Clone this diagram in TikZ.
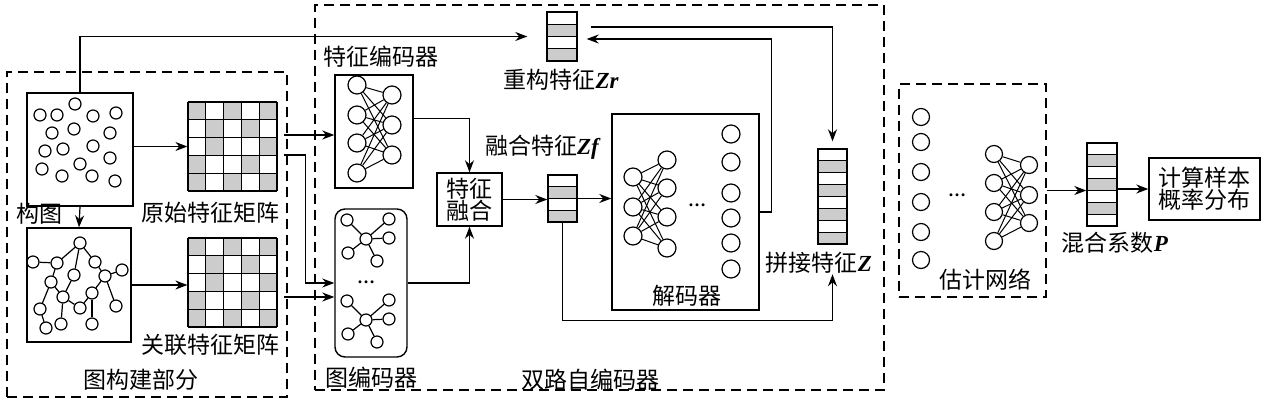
\documentclass[tikz,border=0pt]{standalone}
\usepackage{fontspec}
\setmainfont{Noto Sans CJK SC}
\newfontfamily\tnr{Liberation Serif}
\newcommand\bivar[1]{{\tnr\bfseries\itshape #1}}
\usetikzlibrary{arrows.meta,fit,positioning}
\definecolor{cellgray}{RGB}{204,204,204}
\tikzset{
  box/.style={draw, line width=0.7pt, inner sep=0pt},
  dashbox/.style={draw, line width=0.6pt, dash pattern=on 5pt off 3pt, inner sep=0pt},
  neuron/.style={draw, circle, line width=0.6pt, minimum size=9pt, inner sep=0pt},
  dot/.style={draw, circle, line width=0.6pt, minimum size=6pt, inner sep=0pt},
  lbl/.style={font=\fontsize{11.5pt}{13pt}\selectfont, inner sep=0pt, align=center},
  ellip/.style={font=\tnr\bfseries\small, inner sep=0pt},
  arr/.style={-{Stealth[length=6pt,width=4.5pt]}, line width=0.6pt},
}

\begin{document}
\begin{tikzpicture}[x=0.5pt, y=-0.5pt, line width=0.6pt]
  \useasboundingbox (0,0) rectangle (1265,403);

  % dashed groups
  \node[dashbox, fit={(7,72) (287,397)}] (build) {};
  \node[dashbox, fit={(315,5) (884,390)}] (dual) {};
  \node[dashbox, fit={(899,84) (1046,297)}] (est) {};
  \node[lbl] (buildlbl) at (141,380) {图构建部分};
  \node[lbl] (duallbl) at (590,380) {双路自编码器};
  \node[lbl] (estlbl) at (985,280) {估计网络};

  % raw samples
  \node[box, fit={(27,93) (133,206)}] (scatter) {};
  \foreach \x/\y in {75/104, 40/115, 57/115, 93/116, 116/113, 52/133, 74/129,
                     110/133, 45/151, 63/149, 93/146, 110/158, 80/164, 42/169,
                     62/176, 92/176, 115/181}
    \node[dot] at (\x,\y) {};
  \node[lbl] (scatterlbl) at (40,214) {构图};

  % sample graph
  \node[box, fit={(27,228) (131,342)}] (graph) {};
  \foreach \x/\y [count=\i] in {80/243, 33/262, 57/263, 95/262, 74/275, 105/276,
                                122/270, 51/282, 63/297, 92/293, 40/309, 80/308,
                                116/306, 46/328, 61/324, 92/324}
    \node[dot] (g\i) at (\x,\y) {};
  \foreach \u/\v in {2/3, 1/3, 1/5, 1/4, 3/8, 8/9, 5/9, 9/15, 9/12, 12/10,
                     10/6, 6/4, 6/7, 6/13, 10/16, 8/11, 11/14}
    \draw (g\u) -- (g\v);

  % feature matrices
  \foreach \m/\ya in {mat1/102, mat2/238}{
    \foreach \c/\r in {0/0, 2/0, 4/0, 1/1, 3/1, 1/2, 4/2, 0/3, 3/3, 0/4, 2/4, 4/4}
      \fill[cellgray] ({188+\c*17.8},{\ya+\r*17.8}) rectangle ++(17.8,17.8);
    \foreach \i in {0,...,5}{
      \draw ({188+\i*17.8},\ya) -- ++(0,89);
      \draw (188,{\ya+\i*17.8}) -- ++(89,0);
    }
    \node[inner sep=0pt, fit={(188,\ya) (277,{\ya+89})}] (\m) {};
  }
  \node[lbl] (mat1lbl) at (210,213) {原始特征矩阵};
  \node[lbl] (mat2lbl) at (210,345) {关联特征矩阵};

  \draw[arr] (scatter.east |- mat1) -- (mat1.west);
  \draw[arr] (scatter.south) -- (graph.north);
  \draw[arr] (graph.east) -- (graph.east -| mat2.west);

  % feature encoder
  \node[box, fit={(335,75) (413,188)}] (fenc) {};
  \node[lbl] (fenclbl) at (381,57) {特征编码器};
  \foreach \y [count=\i] in {85,115,143,173}
    \node[neuron] (fa\i) at (357,\y) {};
  \foreach \y [count=\i] in {95,125,155}
    \node[neuron] (fb\i) at (392,\y) {};
  \foreach \i in {1,...,4}
    \foreach \j in {1,...,3}
      \draw[line width=0.5pt] (fa\i) -- (fb\j);

  % graph encoder
  \node[box, rounded corners=5pt, fit={(335,209) (407,357)}] (genc) {};
  \node[lbl] (genclbl) at (371,378) {图编码器};
  \foreach \s/\dy in {1/0, 2/81}{
    \node[dot] (s\s) at (366,{239+\dy}) {};
    \foreach \dx/\ddy [count=\k] in {-19/-19, 23/-20, 23/-1, -18/14, 11/22}{
      \node[dot] (s\s\k) at ({366+\dx},{239+\dy+\ddy}) {};
      \draw (s\s) -- (s\s\k);
    }
  }
  \node[ellip] (gdots) at (366,282) {\textellipsis};

  % inputs of the encoders
  \coordinate (m1a) at (284,135);
  \coordinate (m1b) at (284,155);
  \coordinate (m2a) at (284,297);
  \draw[arr] (m1a) -- (m1a -| fenc.west);
  \draw[arr] (m1b) -| ([xshift=-14.5pt]genc.west) -- (genc.west);
  \draw[arr] (m2a) -- ([yshift=-7pt]genc.west);

  % fusion
  \node[box, lbl, fit={(437,173) (502,226)}] (fuse) {};
  \node[lbl] at (fuse) {特征\\[-2pt]融合};
  \draw[arr] ([yshift=6.5pt]fenc.east) -| (fuse.north);
  \draw[arr] (genc.east) -| (fuse.south);

  % feature vectors
  \foreach \n/\xa/\xb/\ya/\yb/\k in {zr/547/577/12/61/4, zf/548/577/175/222/4,
                                     z/818/847/149/244/8, p/1087/1117/143/226/7}{
    \pgfmathsetmacro\hh{(\yb-\ya)/\k}
    \foreach \j in {2,4,...,\k}
      \fill[cellgray] (\xa,{\ya+(\j-1)*\hh}) rectangle (\xb,{\ya+\j*\hh});
    \foreach \j in {1,...,\k}
      \draw (\xa,{\ya+\j*\hh}) -- (\xb,{\ya+\j*\hh});
    \node[box, fit={(\xa,\ya) (\xb,\yb)}] (\n) {};
  }
  \node[lbl] (zrlbl) at (561,80) {重构特征\bivar{Zr}};
  \node[lbl] (zflbl) at (542,147) {融合特征\bivar{Zf}};
  \node[lbl] (zlbl) at (819,263) {拼接特征\bivar{Z}};
  \node[lbl] (plbl) at (1115,243) {混合系数\bivar{P}};

  % decoder
  \node[box, fit={(612,114) (759,310)}] (dec) {};
  \node[lbl] (declbl) at (687,296) {解码器};
  \foreach \y [count=\i] in {177,207,236}
    \node[neuron] (da\i) at (633,\y) {};
  \foreach \y [count=\i] in {160,188,217,248}
    \node[neuron] (db\i) at (667,\y) {};
  \foreach \y [count=\i] in {134,162,193,218,243,269}
    \node[neuron] (dc\i) at (731,\y) {};
  \foreach \i in {1,...,3}
    \foreach \j in {1,...,4}
      \draw[line width=0.5pt] (da\i) -- (db\j);
  \node[ellip] (ddots) at (697,205) {\textellipsis};

  \draw[arr] (fuse.east) -- (fuse.east -| zf.west);
  \draw[arr] (zf.east) -- (zf.east -| dec.west);
  \draw[arr] (zf.south) |- ([yshift=-5pt]dec.south) -| (z |- zlbl.south);
  \draw[arr] (scatter.north) |- ([xshift=-9.5pt]zr.west);
  \draw[arr] (dec.east) -- ++(6pt,0) |- ([xshift=4.5pt,yshift=-1.25pt]zr.east);
  \draw[arr] ([xshift=6.5pt,yshift=4.75pt]zr.east) -| ([yshift=3.5pt]z.north);

  % estimation network
  \foreach \y [count=\i] in {117,142,172,202,232,260}
    \node[neuron, minimum size=8.5pt] (ea\i) at (921,\y) {};
  \node[ellip] (edots) at (957,195) {\textellipsis};
  \foreach \y [count=\i] in {154,183,212,241}
    \node[neuron, minimum size=8.5pt] (eb\i) at (994,\y) {};
  \foreach \y [count=\i] in {165,195,223}
    \node[neuron, minimum size=8.5pt] (ec\i) at (1029,\y) {};
  \foreach \i in {1,...,4}
    \foreach \j in {1,...,3}
      \draw[line width=0.5pt] (eb\i) -- (ec\j);

  % output
  \node[box, fit={(1149,158) (1260,220)}] (calc) {};
  \node[lbl] at (calc) {计算样本\\[-2pt]概率分布};
  \draw[arr] (est.east) -- (est.east -| p.west);
  \draw[arr] (p.east |- calc.west) -- (calc.west);
\end{tikzpicture}
\end{document}
